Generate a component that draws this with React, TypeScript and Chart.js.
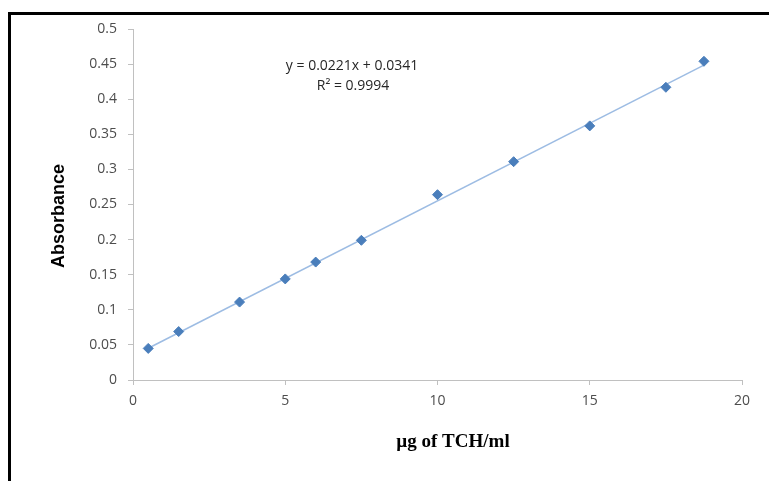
import React, { useEffect, useRef } from "react";
import { Chart, registerables } from "chart.js";

Chart.register(...registerables);

// Data
const concentrations = [0.5, 1.5, 3.5, 5, 6, 7.5, 10, 12.5, 15, 17.5, 18.75];
const absorbance = [0.045, 0.069, 0.111, 0.144, 0.168, 0.199, 0.264, 0.311, 0.362, 0.417, 0.454];
const trendX = [0.5, 18.75];
const trendY = [0.0452, 0.4485];
const xTicks = [0, 5, 10, 15, 20];
const yTicks = [0, 0.05, 0.1, 0.15, 0.2, 0.25, 0.3, 0.35, 0.4, 0.45, 0.5];
const equationText = "y = 0.0221x + 0.0341";
const r2Text = "R² = 0.9994";
const xTitle = "µg of TCH/ml";
const yTitle = "Absorbance";

const tickFont = { family: "'Open Sans', sans-serif", size: 14 };
const tickColor = "#4D4D4D";
const axisColor = "#C0C0C0";

const textPlugin = {
  id: "textPlugin",
  afterDraw(chart: any) {
    const ctx = chart.ctx;
    ctx.save();
    ctx.fillStyle = "#262626";
    ctx.textAlign = "center";
    ctx.textBaseline = "middle";
    ctx.font = "14px 'Open Sans', sans-serif";
    ctx.fillText(equationText, 352, 66);
    ctx.fillText(r2Text, 353, 86);

    ctx.fillStyle = "#000";
    ctx.font = "bold 19px 'Liberation Serif', serif";
    ctx.fillText(xTitle, 453, 442);

    ctx.translate(59, 216);
    ctx.rotate(-Math.PI / 2);
    ctx.font = "bold 18px 'Liberation Sans', Arial, sans-serif";
    ctx.fillText(yTitle, 0, 0);
    ctx.restore();
  },
};

export default function App() {
  const canvasRef = useRef<HTMLCanvasElement | null>(null);

  useEffect(() => {
    document.body.style.margin = "0";
    const canvas = canvasRef.current;
    if (!canvas) return;
    const chart = new Chart(canvas, {
      type: "scatter",
      data: {
        datasets: [
          {
            type: "line",
            label: "Trend",
            data: trendX.map((x, i) => ({ x, y: trendY[i] })),
            borderColor: "#9DBCE3",
            borderWidth: 1.5,
            pointRadius: 0,
            fill: false,
            order: 2,
          } as any,
          {
            label: "Absorbance",
            data: concentrations.map((x, i) => ({ x, y: absorbance[i] })),
            backgroundColor: "#4A7EBB",
            borderColor: "#4A7EBB",
            pointStyle: "rectRot",
            pointRadius: 5,
            borderWidth: 1,
            order: 1,
          },
        ],
      },
      options: {
        responsive: false,
        animation: false,
        devicePixelRatio: 1,
        layout: { padding: { left: 0, top: 29, right: 27, bottom: 0 } },
        plugins: {
          legend: { display: false },
          tooltip: { enabled: false },
          title: { display: false },
        },
        scales: {
          x: {
            type: "linear",
            min: 0,
            max: 20,
            afterFit: (s: any) => {
              s.height = 101;
            },
            afterBuildTicks: (s: any) => {
              s.ticks = xTicks.map((v) => ({ value: v }));
            },
            ticks: {
              font: tickFont,
              color: tickColor,
              padding: 8,
              maxRotation: 0,
              callback: (v: any) => String(v),
            },
            grid: {
              drawOnChartArea: false,
              drawTicks: true,
              tickLength: 5,
              color: axisColor,
            },
            border: { color: axisColor, width: 1 },
          },
          y: {
            type: "linear",
            min: 0,
            max: 0.5,
            afterFit: (s: any) => {
              s.width = 133;
            },
            afterBuildTicks: (s: any) => {
              s.ticks = yTicks.map((v) => ({ value: v }));
            },
            ticks: {
              font: tickFont,
              color: tickColor,
              padding: 11,
              callback: (v: any) => String(v),
            },
            grid: {
              drawOnChartArea: false,
              drawTicks: true,
              tickLength: 5,
              color: axisColor,
            },
            border: { color: axisColor, width: 1 },
          },
        },
      },
      plugins: [textPlugin],
    });
    return () => chart.destroy();
  }, []);

  return (
    <div style={{ position: "fixed", left: 0, top: 0, width: 769, height: 481, background: "#fff" }}>
      <canvas ref={canvasRef} width={769} height={481} style={{ width: 769, height: 481, display: "block" }} />
      <div
        style={{
          position: "absolute",
          left: 8,
          top: 12,
          width: 761,
          height: 469,
          borderTop: "3px solid #000",
          borderLeft: "3px solid #000",
          boxSizing: "border-box",
          pointerEvents: "none",
        }}
      />
    </div>
  );
}
